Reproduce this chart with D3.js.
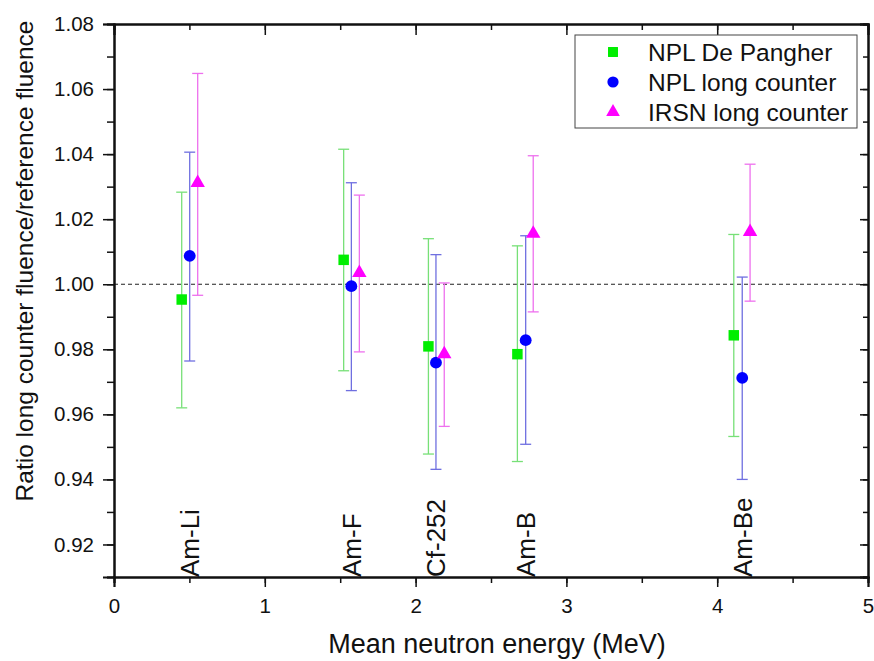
<!DOCTYPE html>
<html>
<head>
<meta charset="utf-8">
<script src="https://cdn.jsdelivr.net/npm/d3@7"></script>
<style>
  body { margin: 0; background: #fff; }
  svg { font-family: "Liberation Sans", Arial, sans-serif; }
</style>
</head>
<body>
<div id="chart"></div>
<script>
// data
const sources = ["Am-Li", "Am-F", "Cf-252", "Am-B", "Am-Be"];

const dpX  = [0.449, 1.523, 2.085, 2.675, 4.110];
const dpY  = [0.9953, 1.0075, 0.9809, 0.9785, 0.9843];
const dpLo = [0.9620, 0.9734, 0.9478, 0.9455, 0.9532];
const dpHi = [1.0283, 1.0415, 1.0140, 1.0118, 1.0153];

const lcX  = [0.502, 1.574, 2.135, 2.730, 4.166];
const lcY  = [1.0087, 0.9994, 0.9759, 0.9828, 0.9712];
const lcLo = [0.9764, 0.9673, 0.9431, 0.9508, 0.9400];
const lcHi = [1.0406, 1.0312, 1.0091, 1.0149, 1.0022];

const irX  = [0.555, 1.627, 2.190, 2.780, 4.218];
const irY  = [1.0312, 1.0035, 0.9785, 1.0156, 1.0161];
const irLo = [0.9966, 0.9792, 0.9563, 0.9915, 0.9948];
const irHi = [1.0648, 1.0274, 1.0004, 1.0395, 1.0369];

const xTicks = [0, 1, 2, 3, 4, 5];
const yTicks = [0.92, 0.94, 0.96, 0.98, 1.00, 1.02, 1.04, 1.06, 1.08];

const series = [
  {name: "NPL De Pangher",     sym: d3.symbolSquare,   size: 110, color: "#00ee00", bar: "#77e077", x: dpX, y: dpY, lo: dpLo, hi: dpHi},
  {name: "NPL long counter",   sym: d3.symbolCircle,   size: 110, color: "#0000ff", bar: "#6f6fe0", x: lcX, y: lcY, lo: lcLo, hi: lcHi},
  {name: "IRSN long counter",  sym: d3.symbolTriangle, size: 90,  color: "#ff00ff", bar: "#ee70ee", x: irX, y: irY, lo: irLo, hi: irHi}
];

const W = 874, H = 661;
const margin = {top: 24, right: 6, bottom: 84, left: 114};
const width = W - margin.left - margin.right,
      height = H - margin.top - margin.bottom;

const svg = d3.select("#chart").append("svg")
    .attr("width", W).attr("height", H);
const g = svg.append("g")
    .attr("transform", `translate(${margin.left},${margin.top})`);

const x = d3.scaleLinear().domain([0, 5]).range([0, width]);
const y = d3.scaleLinear().domain([0.91, 1.08]).range([height, 0]);

// reference line at 1.00
g.append("line")
  .attr("x1", 0).attr("x2", width)
  .attr("y1", y(1)).attr("y2", y(1))
  .attr("stroke", "#222").attr("stroke-width", 1.1)
  .attr("stroke-dasharray", "4,3");

// source labels
g.selectAll(".src")
  .data(sources)
  .join("text")
    .attr("class", "src")
    .attr("transform", (d, i) => `translate(${x(lcX[i])},${height}) rotate(-90)`)
    .attr("dy", "0.36em")
    .style("font-size", "26px")
    .attr("fill", "#111")
    .text(d => d);

// error bars + markers
series.forEach(s => {
  const pts = s.x.map((v, i) => ({x: v, y: s.y[i], lo: s.lo[i], hi: s.hi[i]}));
  const eb = g.append("g").attr("stroke", s.bar).attr("stroke-width", 1.3).attr("fill", "none");
  eb.selectAll(".v").data(pts).join("line")
    .attr("x1", d => x(d.x)).attr("x2", d => x(d.x))
    .attr("y1", d => y(d.lo)).attr("y2", d => y(d.hi));
  eb.selectAll(".t").data(pts).join("line")
    .attr("x1", d => x(d.x) - 5.5).attr("x2", d => x(d.x) + 5.5)
    .attr("y1", d => y(d.hi)).attr("y2", d => y(d.hi));
  eb.selectAll(".b").data(pts).join("line")
    .attr("x1", d => x(d.x) - 5.5).attr("x2", d => x(d.x) + 5.5)
    .attr("y1", d => y(d.lo)).attr("y2", d => y(d.lo));
  g.append("g").selectAll("path").data(pts).join("path")
    .attr("d", d3.symbol().type(s.sym).size(s.size))
    .attr("transform", d => `translate(${x(d.x)},${y(d.y)})`)
    .attr("fill", s.color);
});

// axes
const axStyle = sel => {
  sel.select(".domain").attr("stroke", "#111").attr("stroke-width", 2);
  sel.selectAll(".tick line").attr("stroke", "#111").attr("stroke-width", 1.5);
  sel.selectAll("text").attr("fill", "#111").style("font-size", "20.5px");
};

const xMinor = d3.range(0, 5.01, 0.5);
const yMinor = d3.range(0.91, 1.0801, 0.01).map(v => +v.toFixed(2));

// minor ticks
g.append("g").attr("transform", `translate(0,${height})`)
  .call(d3.axisBottom(x).tickValues(xMinor).tickSize(6).tickFormat(""))
  .call(axStyle);
g.append("g")
  .call(d3.axisTop(x).tickValues(xMinor).tickSize(-6).tickFormat(""))
  .call(axStyle);
g.append("g")
  .call(d3.axisLeft(y).tickValues(yMinor).tickSize(7).tickFormat(""))
  .call(axStyle);
g.append("g").attr("transform", `translate(${width},0)`)
  .call(d3.axisRight(y).tickValues(yMinor).tickSize(-5).tickFormat(""))
  .call(axStyle);

// major ticks
g.append("g").attr("transform", `translate(0,${height})`)
  .call(d3.axisBottom(x).tickValues(xTicks).tickSize(10).tickPadding(11).tickFormat(d3.format("d")))
  .call(axStyle);
g.append("g")
  .call(d3.axisTop(x).tickValues(xTicks).tickSize(-11).tickFormat(""))
  .call(axStyle);
g.append("g")
  .call(d3.axisLeft(y).tickValues(yTicks).tickSize(11).tickPadding(9).tickFormat(d3.format(".2f")))
  .call(axStyle);
g.append("g").attr("transform", `translate(${width},0)`)
  .call(d3.axisRight(y).tickValues(yTicks).tickSize(-8).tickFormat(""))
  .call(axStyle);

// axis titles
svg.append("text")
  .attr("x", 497).attr("y", 653)
  .attr("text-anchor", "middle")
  .style("font-size", "27px").attr("fill", "#111")
  .text("Mean neutron energy (MeV)");

svg.append("text")
  .attr("transform", "translate(33,261) rotate(-90)")
  .attr("text-anchor", "middle")
  .style("font-size", "24.5px").attr("fill", "#111")
  .text("Ratio long counter fluence/reference fluence");

// legend
const lg = svg.append("g").attr("transform", "translate(575,35)");
lg.append("rect").attr("width", 282).attr("height", 93)
  .attr("fill", "#fff").attr("stroke", "#444").attr("stroke-width", 1);
series.forEach((s, i) => {
  lg.append("path")
    .attr("d", d3.symbol().type(s.sym).size(s.size * 0.9))
    .attr("transform", `translate(38,${17 + i * 30})`)
    .attr("fill", s.color);
  lg.append("text")
    .attr("x", 73).attr("y", 17 + i * 30).attr("dy", "0.36em")
    .style("font-size", "24.5px").attr("fill", "#111")
    .text(s.name);
});
</script>
</body>
</html>
